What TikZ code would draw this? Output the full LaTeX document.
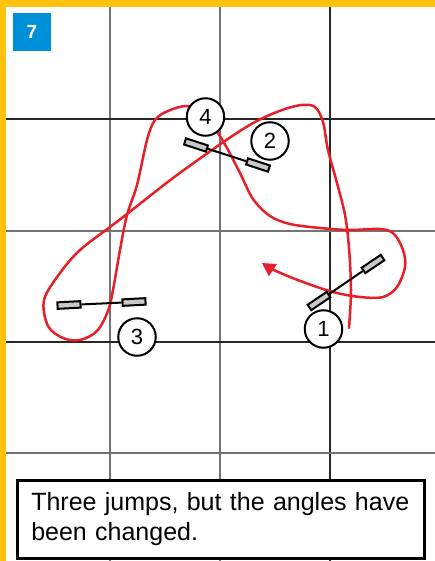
\documentclass[tikz,border=0pt]{standalone}
\usepackage{fontspec}
\setmainfont{Liberation Sans}
\usetikzlibrary{arrows.meta}
\definecolor{orangeband}{RGB}{255,194,14}
\definecolor{bluebox}{RGB}{0,144,216}
\definecolor{redpath}{RGB}{232,30,40}
\definecolor{jumpgray}{RGB}{200,200,200}
\begin{document}
\begin{tikzpicture}[x=1pt,y=-1pt,
  gridline/.style={line width=1.3pt, black!55},
  gridlinedark/.style={line width=1.1pt, black!85},
  jumpbar/.style={draw, line width=2pt, fill=jumpgray, minimum width=23pt, minimum height=6.5pt, inner sep=0pt},
  jumplink/.style={line width=2pt},
  numcircle/.style={circle, draw, line width=2pt, fill=white, minimum size=37.5pt, inner sep=0pt, font=\fontsize{22}{22}\selectfont},
  redline/.style={draw=redpath, line width=2.5pt, line cap=round, line join=round}
]
\useasboundingbox (0,0) rectangle (435,561);
\fill[white] (0,0) rectangle (435,561);
% grid
\draw[gridline] (110,7) -- (110,561);
\draw[gridline] (220,7) -- (220,561);
\draw[gridlinedark] (330,7) -- (330,561);
\draw[gridlinedark] (6,119) -- (435,119);
\draw[gridline] (6,231) -- (435,231);
\draw[gridlinedark] (6,342) -- (435,342);
\draw[gridline] (6,453) -- (435,453);
% orange frame
\fill[orangeband] (0,0) rectangle (435,7);
\fill[orangeband] (0,0) rectangle (6,561);
% badge
\node[fill=bluebox, minimum size=38pt, inner sep=0pt, text=white, font=\bfseries\fontsize{19}{19}\selectfont] (badge) at (32,32) {7};
% red path
\draw[redline, -{Triangle[length=13pt, width=14pt]}] plot[smooth, tension=0.55] coordinates {
 (349,328) (351,290) (349,248) (345,215) (337,183) (328,150) (323,122) (315,107) (302,105) (285,109) (265,117) (248,126) (222,143) (173,178) (127,214) (110,227) (80,250) (60,273) (44,300) (48,326) (63,338) (80,340) (97,331) (108,311) (113,290) (120,250) (127,215) (137,185) (147,140) (155,120) (168,111) (187,106) (205,113) (218,133) (227,148) (240,173) (253,199) (270,216) (290,224) (320,228) (350,230) (380,229) (394,234) (403,250) (405,267) (397,287) (383,297) (360,297) (333,292) (303,282) (276,271) (262,263)};
% jumps
\node[jumpbar, rotate=34] (j1a) at (319,301) {};
\node[jumpbar, rotate=34] (j1b) at (373,264) {};
\draw[jumplink] (j1a) -- (j1b);
\node[jumpbar, rotate=-18] (j2a) at (196,145) {};
\node[jumpbar, rotate=-18] (j2b) at (258,165) {};
\draw[jumplink] (j2a) -- (j2b);
\node[jumpbar, rotate=3] (j3a) at (69,305) {};
\node[jumpbar, rotate=3] (j3b) at (134,302) {};
\draw[jumplink] (j3a) -- (j3b);
% numbers
\node[numcircle] (n1) at (323.5,329) {1};
\node[numcircle] (n2) at (270,141) {2};
\node[numcircle] (n3) at (137,337) {3};
\node[numcircle] (n4) at (205.5,117) {4};
% text box
\node[draw, line width=2.5pt, fill=white, anchor=north west, minimum width=407pt, minimum height=78pt, inner xsep=14pt, text width=379pt, align=left, font=\fontsize{25}{30}\selectfont] (caption) at (16,479) {\vphantom{T}Three jumps, but the angles have\\been changed.\vphantom{g}};
\end{tikzpicture}
\end{document}
